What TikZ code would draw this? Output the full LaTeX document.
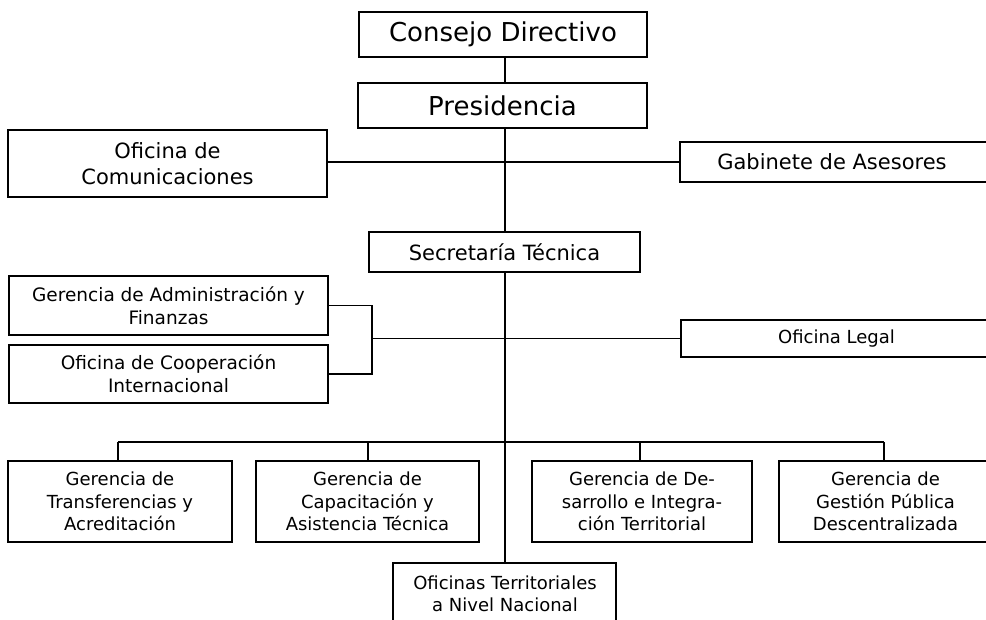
\documentclass[tikz,border=0pt]{standalone}
\usepackage{fontspec}
\setmainfont{DejaVu Sans}
\begin{document}
\begin{tikzpicture}[x=1pt,y=-1pt,
  box/.style={draw, line width=1.8pt, inner sep=0pt, align=center},
  txt/.style={inner sep=0pt, align=center},
  conn/.style={line width=1.25pt},
  fbig/.style={font=\fontsize{26}{30}\selectfont},
  fmid/.style={font=\fontsize{21}{25.5}\selectfont},
  fsml/.style={font=\fontsize{18.5}{23}\selectfont},
  fxs/.style={font=\fontsize{18}{22.5}\selectfont}]
\useasboundingbox (0,0) rectangle (986,619);
\clip (0,0) rectangle (986,619);
% top
\node[box, fbig, minimum width=288, minimum height=45] (cons) at (503,34.5) {Consejo Directivo};
\node[box, fbig, minimum width=289, minimum height=45] (pres) at (502.5,105.5) {Presidencia};
\node[box, fmid, minimum width=319, minimum height=67] (com) at (167.5,163.5) {Oficina de\\Comunicaciones};
\node[box, minimum width=315, minimum height=40] (gab) at (837.5,162) {};
\node[txt, fmid] (gabt) at (832,162) {Gabinete de Asesores};
\node[box, fmid, minimum width=271, minimum height=40] (sec) at (504.5,252) {Secretaría Técnica};
% middle
\node[box, fsml, minimum width=319, minimum height=59] (adm) at (168.5,305.5) {Gerencia de Administración y\\Finanzas};
\node[box, fsml, minimum width=319, minimum height=58] (coop) at (168.5,374) {Oficina de Cooperación\\Internacional};
\node[box, minimum width=314, minimum height=37] (legal) at (838,338.5) {};
\node[txt, fxs] (legalt) at (836.5,338.5) {Oficina Legal};
% bottom row
\node[box, fxs, minimum width=224, minimum height=81] (b1) at (120,501.5) {Gerencia de\\Transferencias y\\Acreditación};
\node[box, fxs, minimum width=223, minimum height=81] (b2) at (367.5,501.5) {Gerencia de\\Capacitación y\\Asistencia Técnica};
\node[box, fxs, minimum width=220, minimum height=81] (b3) at (642,501.5) {Gerencia de De-\\sarrollo e Integra-\\ción Territorial};
\node[box, minimum width=216, minimum height=81] (b4) at (887,501.5) {};
\node[txt, fxs] (b4t) at (885.5,501.5) {Gerencia de\\Gestión Pública\\Descentralizada};
\node[box, minimum width=223, minimum height=67] (terr) at (504.5,596.5) {};
\node[txt, font=\fontsize{18}{22}\selectfont] (terrt) at (505,594) {Oficinas Territoriales\\a Nivel Nacional};
% helper coordinates
\coordinate (spine) at (505,0);
\coordinate (brk) at (372,0);
\coordinate (bus) at (0,442);
\coordinate (d1) at (118,0);
\coordinate (d2) at (368,0);
\coordinate (d3) at (640,0);
\coordinate (d4) at (884,0);
% connectors
\draw[conn] (cons.south -| spine) -- (pres.north -| spine);
\draw[conn] (pres.south -| spine) -- (sec.north -| spine);
\draw[conn] (sec.south -| spine) -- (terr.north -| spine);
\draw[conn] (gab.west -| com.east) -- (gab.west);
\draw[conn] (adm.east) -- (adm.east -| brk) -- (coop.east -| brk) -- (coop.east);
\draw[conn] (legal.west -| brk) -- (legal.west);
\draw[conn] (bus -| d1) -- (bus -| d4);
\draw[conn] (bus -| d1) -- (b1.north -| d1);
\draw[conn] (bus -| d2) -- (b2.north -| d2);
\draw[conn] (bus -| d3) -- (b3.north -| d3);
\draw[conn] (bus -| d4) -- (b4.north -| d4);
\end{tikzpicture}
\end{document}
